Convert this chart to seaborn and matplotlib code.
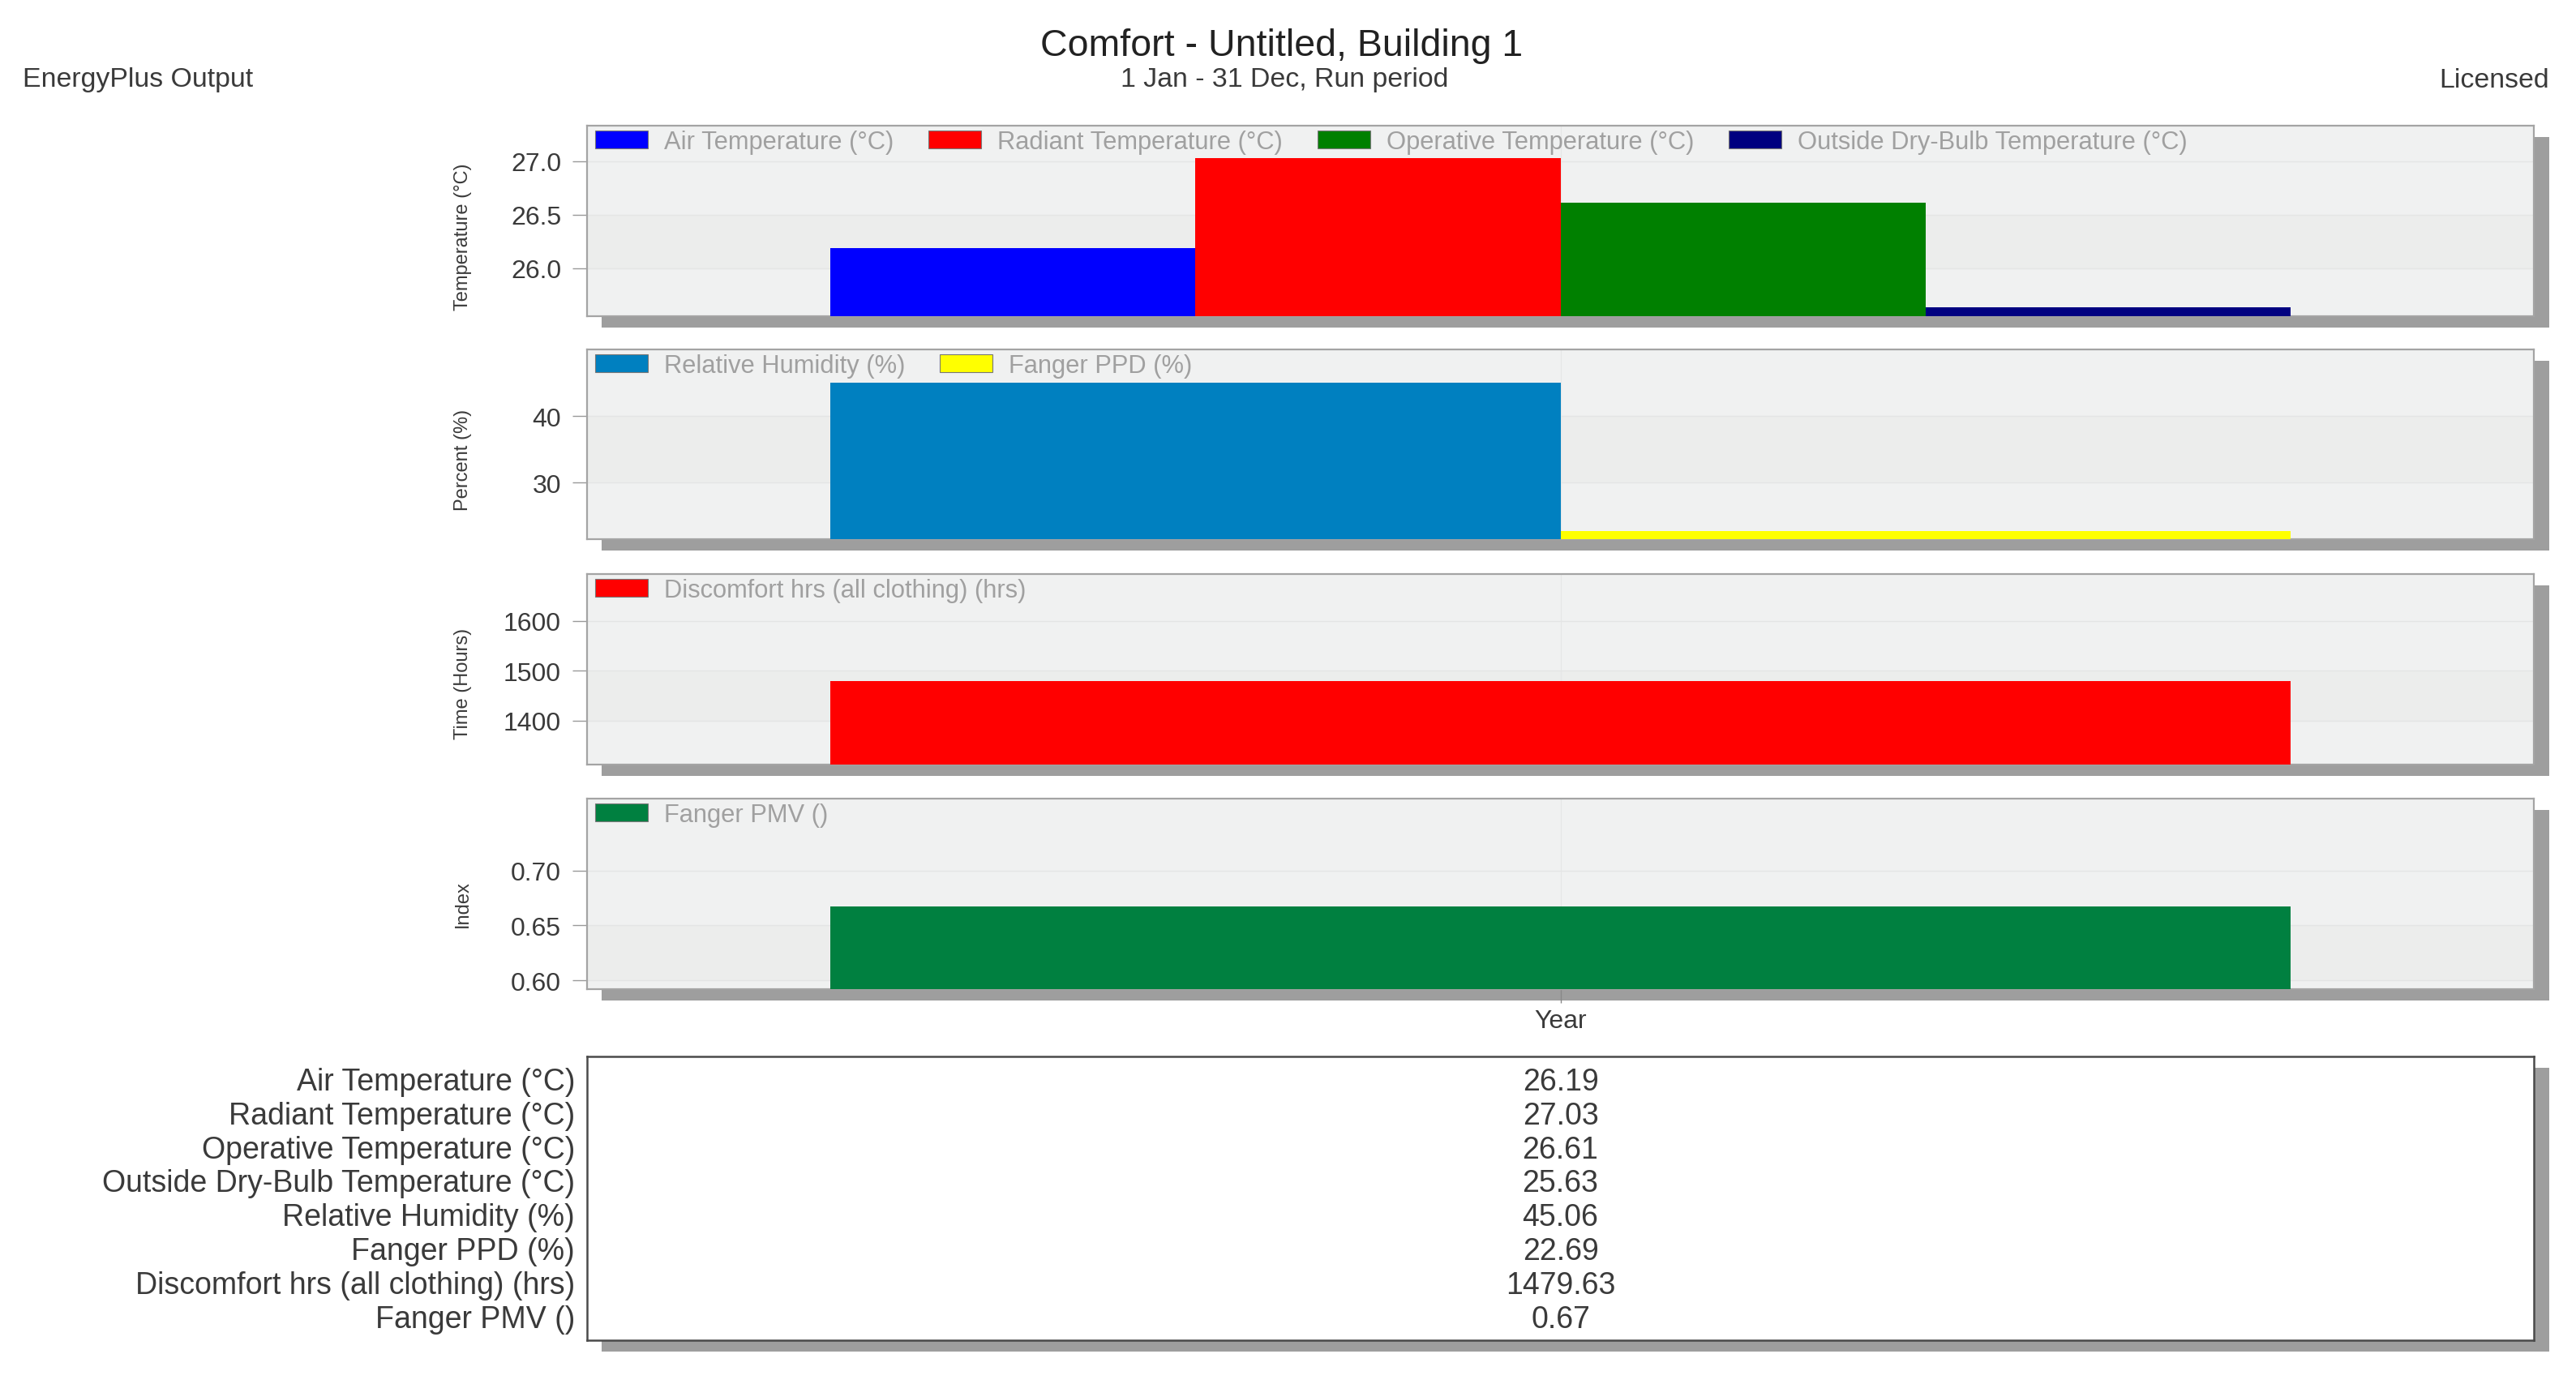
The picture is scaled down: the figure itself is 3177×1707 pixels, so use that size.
import matplotlib
matplotlib.use('Agg')
import matplotlib.pyplot as plt
from matplotlib.patches import Patch, Rectangle
import pandas as pd
import seaborn as sns

# Valores
temp_labels = ['Air Temperature (°C)', 'Radiant Temperature (°C)', 'Operative Temperature (°C)', 'Outside Dry-Bulb Temperature (°C)']
temp_values = [26.19, 27.03, 26.61, 25.63]
temp_colors = ['#0000ff', '#ff0000', '#008000', '#000080']

pct_labels = ['Relative Humidity (%)', 'Fanger PPD (%)']
pct_values = [45.06, 22.69]
pct_colors = ['#0080c0', '#ffff00']

hrs_labels = ['Discomfort hrs (all clothing) (hrs)']
hrs_values = [1479.63]
hrs_colors = ['#ff0000']

pmv_labels = ['Fanger PMV ()']
pmv_values = [0.667]
pmv_colors = ['#008040']

table_labels = temp_labels + pct_labels + hrs_labels + pmv_labels
table_values = ['26.19', '27.03', '26.61', '25.63', '45.06', '22.69', '1479.63', '0.67']

W, H = 3177, 1708
LEFT, RIGHT = 724, 3125


def fx(px):
    return px / W


def fy(py):
    return 1 - py / H


sns.set_theme(style='white')
plt.rcParams['font.family'] = ['Liberation Sans', 'DejaVu Sans']
fig = plt.figure(figsize=(W / 100, H / 100), dpi=100)

TXT = '#3a3a3a'
FS = 27


def add_shadow(top, bottom):
    fig.add_artist(Rectangle((fx(LEFT + 18), fy(bottom + 14)), (RIGHT - LEFT + 1) / W, (bottom - top) / H,
                             transform=fig.transFigure, facecolor='#9e9e9e', edgecolor='none', zorder=-5))


def panel(top, bottom, labels, values, colors, ylim, ticks, fmt, ylabel, label_y, band, ncol):
    add_shadow(top, bottom)
    ax = fig.add_axes([fx(LEFT), fy(bottom), (RIGHT - LEFT) / W, (bottom - top) / H], zorder=2)
    df = pd.DataFrame({'period': ['Year'] * len(labels), 'series': labels, 'value': values})
    sns.barplot(data=df, x='period', y='value', hue='series', hue_order=labels, palette=colors,
                width=0.75, saturation=1, linewidth=0, ax=ax, legend=False, zorder=3)
    ax.set_xlim(-0.5, 0.5)
    ax.set_ylim(*ylim)
    ax.set_facecolor('#f0f1f1')
    ax.axhspan(band[0], band[1], color='#ecedec', lw=0, zorder=0)
    ax.set_yticks(ticks)
    ax.set_yticklabels([fmt % t for t in ticks], fontsize=23, color=TXT)
    ax.grid(axis='y', color='#e4e5e5', lw=1)
    ax.grid(axis='x', color='#e6e7e7', lw=1)
    ax.set_axisbelow(True)
    ax.tick_params(axis='y', left=True, length=13, width=1, color='#999999', pad=10)
    ax.set_xlabel('')
    ax.set_ylabel(ylabel, fontsize=17, color=TXT)
    ax.yaxis.set_label_coords((582 - LEFT) / (RIGHT - LEFT), label_y)
    for s in ax.spines.values():
        s.set_visible(True)
        s.set_color('#a4a4a4')
        s.set_linewidth(1.6)
    handles = [Patch(facecolor=c, edgecolor='#777777', lw=0.8) for c in colors]
    ax.legend(handles, labels, loc='upper left', ncol=ncol, frameon=False, fontsize=22.2,
              labelcolor='#a0a0a0', borderpad=0, borderaxespad=0,
              bbox_to_anchor=(10 / (RIGHT - LEFT), 1 - 5 / (bottom - top)),
              handlelength=2.1, handleheight=0.7, handletextpad=0.65, columnspacing=1.4)
    return ax


ax1 = panel(156, 391, temp_labels, temp_values, temp_colors, (25.55, 27.33), [26.0, 26.5, 27.0], '%.1f',
            'Temperature (°C)', 0.42, (26.0, 26.5), 4)
ax2 = panel(432, 666, pct_labels, pct_values, pct_colors, (21.5, 50), [30, 40], '%d',
            'Percent (%)', 0.42, (30, 40), 2)
ax3 = panel(709, 944, hrs_labels, hrs_values, hrs_colors, (1312, 1694), [1400, 1500, 1600], '%d',
            'Time (Hours)', 0.43, (1400, 1500), 1)
ax4 = panel(986, 1221, pmv_labels, pmv_values, pmv_colors, (0.592, 0.7654), [0.60, 0.65, 0.70], '%.2f',
            'Index', 0.45, (0.60, 0.65), 1)

for ax in [ax1, ax2, ax3]:
    ax.tick_params(axis='x', bottom=False, labelbottom=False)
ax4.tick_params(axis='x', bottom=True, length=12, width=1, color='#888888', pad=5, labelsize=23, labelcolor=TXT)

# Tabla inferior con los valores
add_shadow(1304, 1654)
tb = fig.add_axes([fx(LEFT), fy(1654), (RIGHT - LEFT) / W, (1654 - 1304) / H], zorder=2)
tb.set_xlim(0, 1)
tb.set_ylim(1654, 1304)
tb.set_xticks([])
tb.set_yticks([])
tb.set_facecolor('white')
for s in tb.spines.values():
    s.set_visible(True)
    s.set_color('#4a4a4a')
    s.set_linewidth(1.8)
for i, (lab, val) in enumerate(zip(table_labels, table_values)):
    y = 1335 + i * 41.8
    tb.text(-15 / (RIGHT - LEFT), y, lab, ha='right', va='center', fontsize=FS, color=TXT)
    tb.text(0.5, y, val, ha='center', va='center', fontsize=FS, color=TXT)

# Titulos
fig.text(fx(1581), fy(57), 'Comfort - Untitled, Building 1', ha='center', va='center', fontsize=33.5, color='#222222')
fig.text(fx(1584), fy(99), '1 Jan - 31 Dec, Run period', ha='center', va='center', fontsize=24.4, color=TXT)
fig.text(fx(28), fy(99), 'EnergyPlus Output', ha='left', va='center', fontsize=24.4, color=TXT)
fig.text(fx(3144), fy(99), 'Licensed', ha='right', va='center', fontsize=24.4, color=TXT)

fig.savefig('out.png', dpi=100, facecolor='white')
